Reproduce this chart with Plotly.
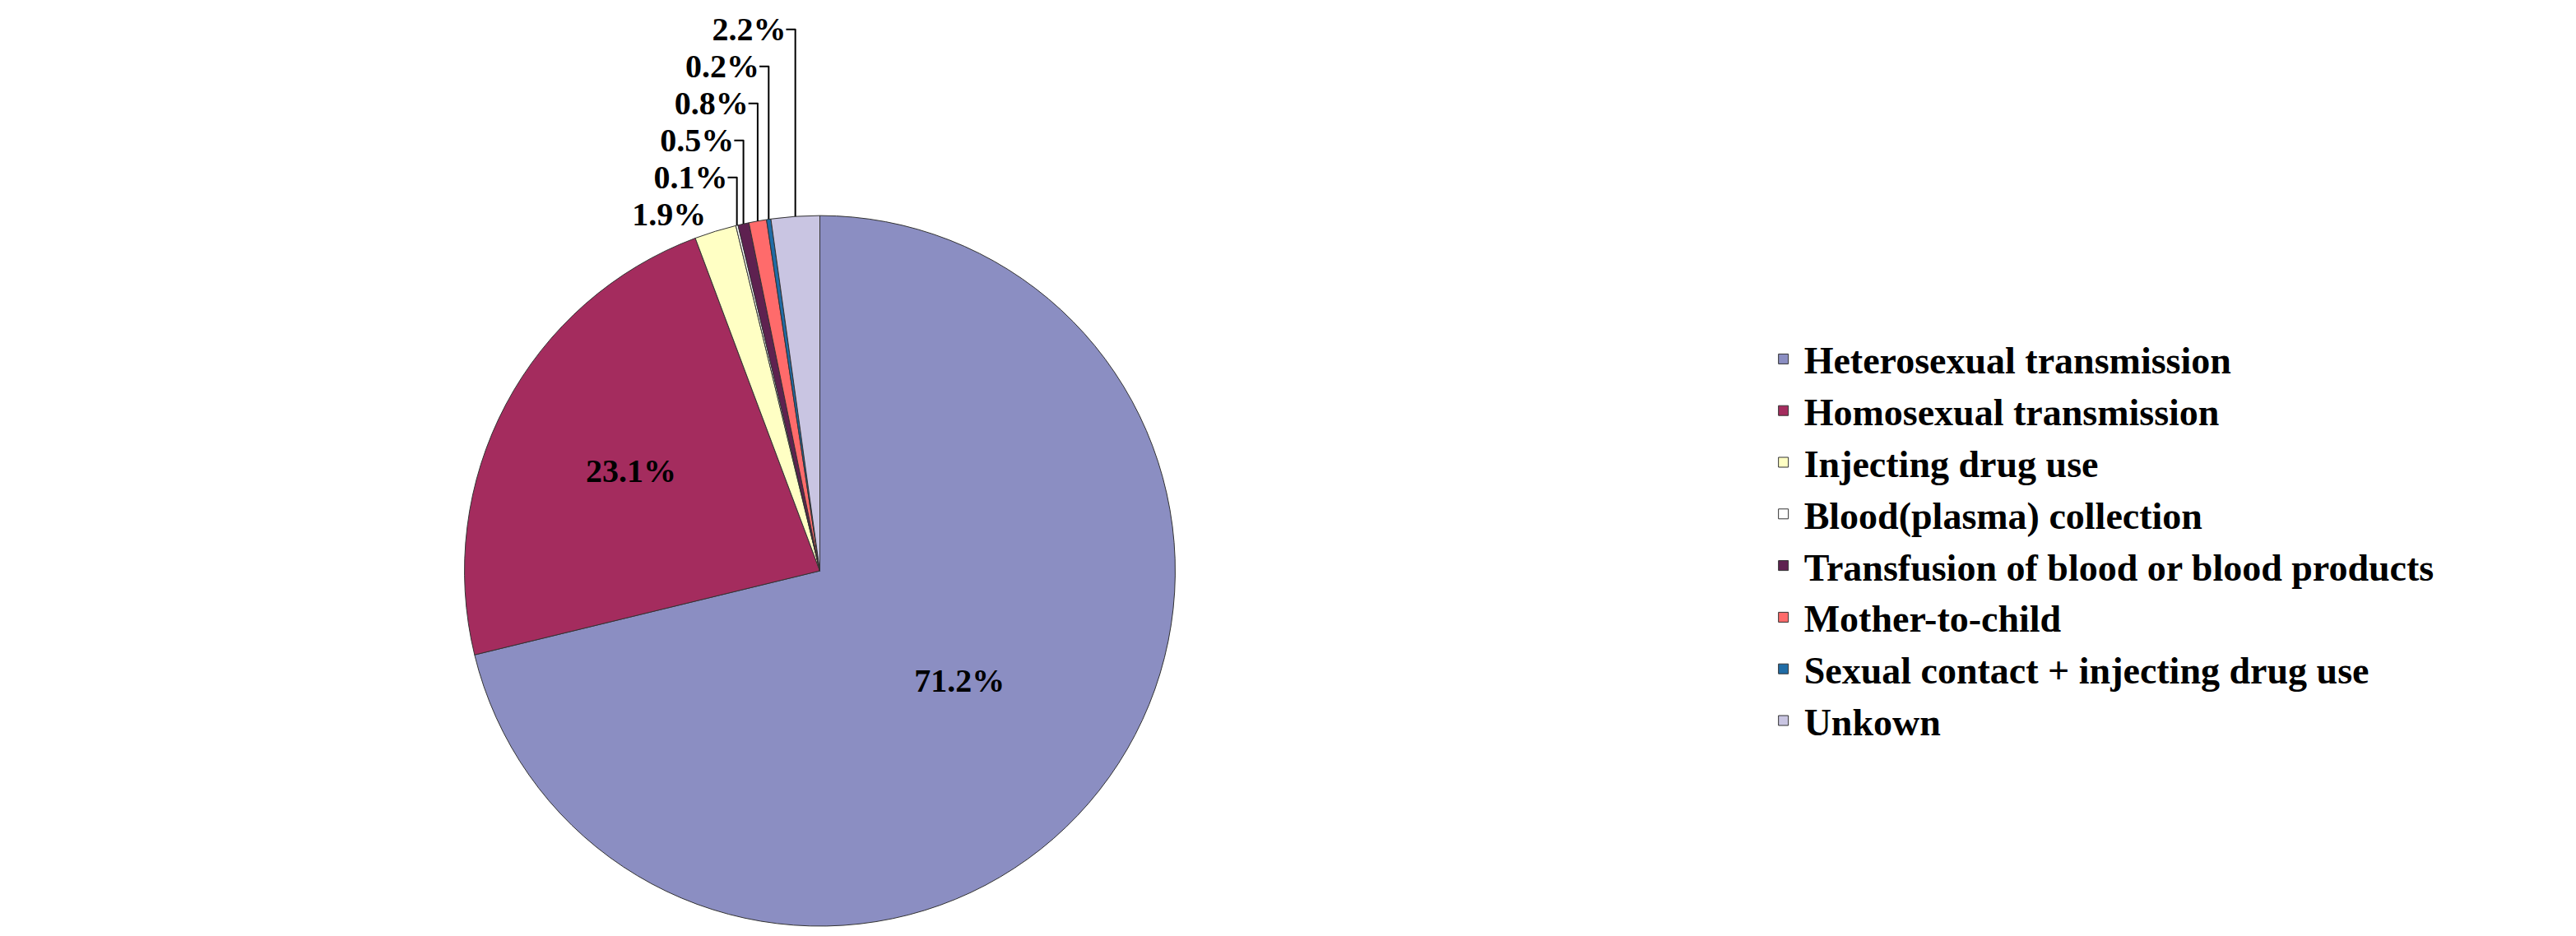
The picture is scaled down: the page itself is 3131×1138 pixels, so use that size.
import plotly.graph_objects as go

categories = ["Heterosexual transmission", "Homosexual transmission", "Injecting drug use",
              "Blood(plasma) collection", "Transfusion of blood or blood products",
              "Mother-to-child", "Sexual contact + injecting drug use", "Unkown"]
values = [71.2, 23.1, 1.9, 0.1, 0.5, 0.8, 0.2, 2.2]
labels_txt = ["71.2%", "23.1%", "1.9%", "0.1%", "0.5%", "0.8%", "0.2%", "2.2%"]
colors = ["#8B8EC2", "#A42C5E", "#FFFFC4", "#FFFFFF", "#5E2150", "#FF6B6B", "#1F6CA6", "#C9C5E2"]
positions = ["inside", "inside", "outside", "outside", "outside", "outside", "outside", "outside"]

fig = go.Figure(go.Pie(
    labels=["<b>%s</b>" % c for c in categories], values=values, text=labels_txt,
    texttemplate="<b>%{text}</b>",
    textposition=positions, sort=False, direction="clockwise", rotation=0,
    marker=dict(colors=colors, line=dict(color="#333333", width=1)),
    textfont=dict(family="Liberation Serif", size=40, color="black"),
    insidetextorientation="horizontal",
    domain=dict(x=[0.0, 0.5], y=[0.0, 0.92]),
))
fig.update_layout(
    width=3131, height=1138, paper_bgcolor="white", plot_bgcolor="white",
    margin=dict(l=20, r=20, t=60, b=20),
    font=dict(family="Liberation Serif", size=40, color="black"),
    legend=dict(x=0.655, y=0.5, yanchor="middle", xanchor="left",
                font=dict(family="Liberation Serif", size=46, color="black"),
                itemwidth=40, traceorder="normal"),
)
fig.write_html("out.html")
